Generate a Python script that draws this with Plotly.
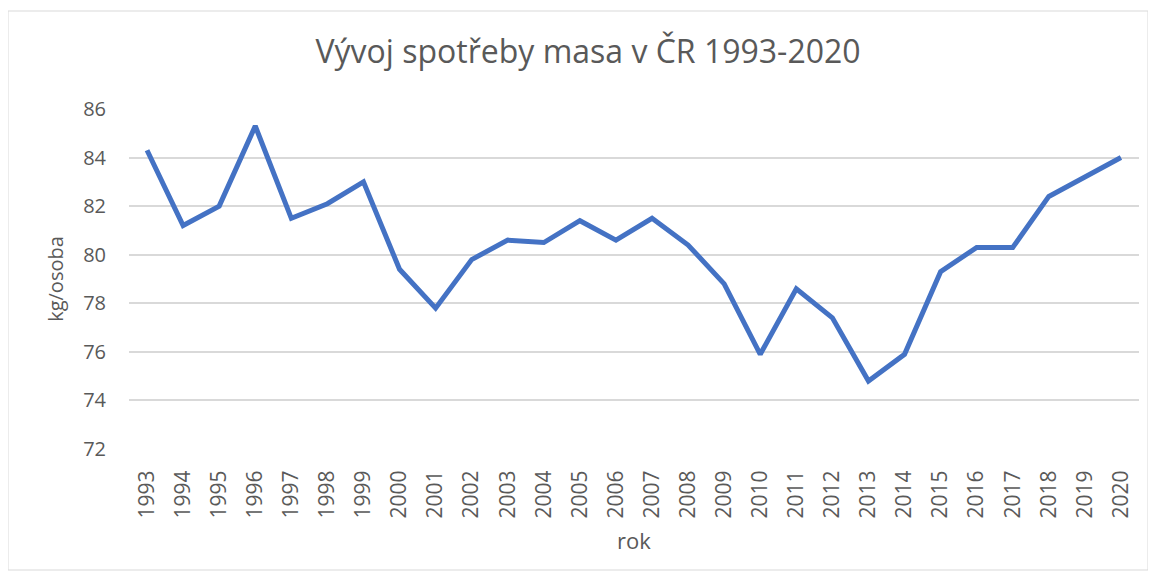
import plotly.graph_objects as go

years = [str(y) for y in range(1993, 2021)]
values = [84.3, 81.2, 82.0, 85.3, 81.5, 82.1, 83.0, 79.4, 77.8, 79.8,
          80.6, 80.5, 81.4, 80.6, 81.5, 80.4, 78.8, 75.9, 78.6, 77.4,
          74.8, 75.9, 79.3, 80.3, 80.3, 82.4, 83.2, 84.0]
y_ticks = [72, 74, 76, 78, 80, 82, 84, 86]

title_text = "Vývoj spotřeby masa v ČR 1993-2020"
x_title = "rok"
y_title = "kg/osoba"

FONT = "Open Sans"
TXT = "#595959"

# page body has an 8px margin, so positions are offset by 8
OFF = 8
W, H = 1156 - OFF, 579 - OFF
L, T = 129 - OFF, 109 - OFF
R = W - (1139 - OFF)
B = H - (449 - OFF)
pw, ph = W - L - R, H - T - B

fig = go.Figure()
fig.add_trace(go.Scatter(x=years, y=values, mode="lines",
                         line=dict(color="#4472C4", width=5, shape="linear"),
                         hoverinfo="x+y", showlegend=False))

fig.update_layout(
    width=W, height=H,
    margin=dict(l=L, r=R, t=T, b=B, autoexpand=False),
    paper_bgcolor="white", plot_bgcolor="white",
    font=dict(family=FONT, color=TXT, size=18),
    title=dict(text=title_text, x=(588 - OFF) / W, xanchor="center",
               y=1 - (52 - OFF) / H, yanchor="middle",
               font=dict(size=32, color=TXT, family=FONT)),
    xaxis=dict(type="category", range=[-0.5, len(years) - 0.5],
               tickangle=-90, showgrid=False, zeroline=False,
               showline=False, ticks="outside", ticklen=12,
               tickcolor="rgba(0,0,0,0)", tickfont=dict(size=21, color=TXT),
               automargin=False,
               title=dict(text=x_title, font=dict(size=22, color=TXT), standoff=16)),
    yaxis=dict(range=[72, 86], tickvals=y_ticks, showgrid=True,
               gridcolor="#D9D9D9", gridwidth=1.5, zeroline=False,
               showline=False, ticks="outside", ticklen=18,
               tickcolor="rgba(0,0,0,0)", automargin=False,
               tickfont=dict(size=20, color=TXT),
               title=dict(text=y_title, font=dict(size=20, color=TXT), standoff=14)),
)

fig.add_shape(type="rect", xref="paper", yref="paper",
              x0=(8 - OFF - L) / pw, x1=(1148 - OFF - L) / pw,
              y0=(H - B - (570 - OFF)) / ph, y1=(H - B - (11 - OFF)) / ph,
              line=dict(color="#D9D9D9", width=1), fillcolor="rgba(0,0,0,0)",
              layer="below")

fig.write_html("out.html")
